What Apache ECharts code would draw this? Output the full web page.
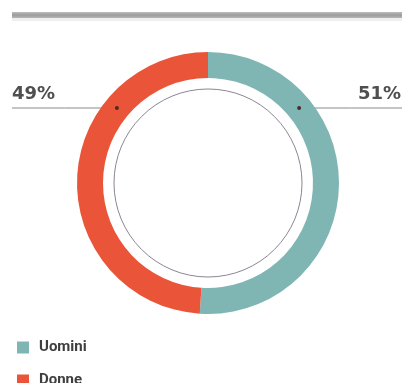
<!DOCTYPE html>
<html>
<head>
<meta charset="utf-8">
<script src="https://cdn.jsdelivr.net/npm/echarts@6/dist/echarts.min.js"></script>
<style>
  html, body { margin: 0; padding: 0; background: #ffffff; }
  #chart { width: 402px; height: 383px; }
</style>
</head>
<body>
<div id="chart"></div>
<script>
// Gender split
const categories = ['Uomini', 'Donne'];
const shares = [51, 49];
const shareLabels = ['51%', '49%'];
const colors = ['#7fb6b4', '#ea5539'];

const chart = echarts.init(document.getElementById('chart'), null, { renderer: 'canvas' });

const W = 402;
const CX = 208, CY = 183;
const R_IN = 105, R_OUT = 131;
const R_THIN = 94;
const POINTER_Y = 108;

// point on the ring's middle radius at the pointer height
function ringPointAtY(side) {
  const rm = (R_IN + R_OUT) / 2;
  const dy = POINTER_Y - CY;
  const dx = Math.sqrt(rm * rm - dy * dy);
  return [CX + side * dx, POINTER_Y];
}

const legendText = {
  color: '#3e3e3e',
  fontSize: 15,
  fontWeight: 'bold',
  fontFamily: 'Roboto',
  padding: [0, 0, 0, 5]
};

// one legend block per row so both entries stack on the left
const legends = categories.map((name, i) => ({
  orient: 'vertical',
  left: 12,
  top: 335 + i * 33,
  icon: 'rect',
  itemWidth: 12,
  itemHeight: 12,
  selectedMode: false,
  data: [name],
  textStyle: legendText
}));

const baseGraphic = [
  {
    type: 'rect',
    shape: { x: 12, y: 12, width: W - 12, height: 6 },
    style: {
      fill: new echarts.graphic.LinearGradient(0, 0, 0, 1, [
        { offset: 0, color: '#bdbdbd' },
        { offset: 0.5, color: '#9c9c9c' },
        { offset: 1, color: '#b5b5b5' }
      ])
    },
    silent: true
  },
  {
    type: 'rect',
    shape: { x: 12, y: 18, width: W - 12, height: 3 },
    style: { fill: '#efefef' },
    silent: true
  }
];

// small arrow tips where the pointer lines enter the ring
const tipGraphic = [ringPointAtY(1), ringPointAtY(-1)].map((p) => ({
  type: 'circle',
  shape: { cx: p[0], cy: p[1], r: 2 },
  style: { fill: '#4a2a2a' },
  z: 10,
  silent: true
}));

const option = {
  animation: false,
  legend: legends,
  graphic: baseGraphic.concat(tipGraphic),
  series: [
    {
      type: 'pie',
      center: [CX, CY],
      radius: [0, R_THIN],
      silent: true,
      z: 1,
      label: { show: false },
      labelLine: { show: false },
      itemStyle: { color: 'rgba(0,0,0,0)', borderColor: '#8c8492', borderWidth: 1 },
      data: [{ value: 1, name: '' }]
    },
    {
      type: 'pie',
      center: [CX, CY],
      radius: [R_IN, R_OUT],
      startAngle: 90,
      clockwise: true,
      silent: true,
      avoidLabelOverlap: false,
      z: 2,
      itemStyle: { borderWidth: 0 },
      label: {
        show: true,
        position: 'outside',
        overflow: 'none',
        formatter: (p) => shareLabels[p.dataIndex],
        color: '#4f4f4f',
        fontSize: 18,
        fontFamily: 'DejaVu Sans',
        fontWeight: 'bold'
      },
      labelLine: {
        show: true,
        lineStyle: { color: '#8a8a8a', width: 1 }
      },
      labelLayout: function (params) {
        const side = params.dataIndex === 0 ? 1 : -1;
        const tip = ringPointAtY(side);
        const end = side > 0 ? W : 12;
        return {
          x: side > 0 ? W - 1 : 12,
          y: 103,
          align: side > 0 ? 'right' : 'left',
          verticalAlign: 'bottom',
          labelLinePoints: [tip, [(tip[0] + end) / 2, POINTER_Y], [end, POINTER_Y]]
        };
      },
      data: categories.map((name, i) => ({
        name,
        value: shares[i],
        itemStyle: { color: colors[i] }
      }))
    }
  ]
};

chart.setOption(option);
</script>
</body>
</html>
